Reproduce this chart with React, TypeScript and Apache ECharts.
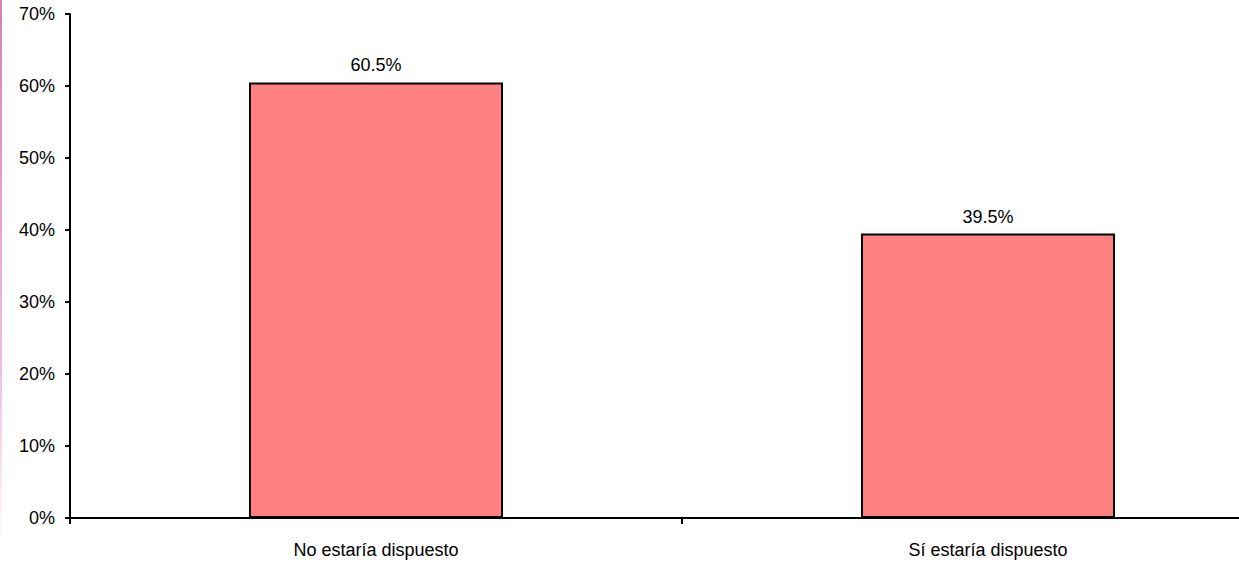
import React, { useEffect, useRef } from "react";
import * as echarts from "echarts";

const categories = ["No estaría dispuesto", "Sí estaría dispuesto"];
const values = [60.5, 39.5];
const yTicks = [0, 10, 20, 30, 40, 50, 60, 70];

export default function App() {
  const ref = useRef<HTMLDivElement>(null);
  useEffect(() => {
    const chart = echarts.init(ref.current!, null, { renderer: "svg" });
    const font = "'Liberation Sans', Arial, sans-serif";
    chart.setOption({
      animation: false,
      grid: { left: 70, right: 1, top: 14, bottom: 49, containLabel: false },
      xAxis: {
        type: "category",
        data: categories,
        axisLine: { lineStyle: { color: "#000", width: 2 } },
        axisTick: { show: true, length: 6, lineStyle: { color: "#000", width: 2 } },
        axisLabel: { color: "#000", fontSize: 18, fontFamily: font, margin: 23 },
      },
      yAxis: {
        type: "value",
        min: yTicks[0],
        max: yTicks[yTicks.length - 1],
        interval: 10,
        splitLine: { show: false },
        axisLine: { show: true, lineStyle: { color: "#000", width: 2 } },
        axisTick: { show: true, length: 5, lineStyle: { color: "#000", width: 2 } },
        axisLabel: {
          color: "#000",
          fontSize: 18,
          fontFamily: font,
          margin: 15,
          formatter: (v: number) => `${v}%`,
        },
      },
      graphic: [
        {
          type: "rect",
          shape: { x: 0, y: 0, width: 2, height: 545 },
          style: {
            fill: new echarts.graphic.LinearGradient(0, 0, 0, 1, [
              { offset: 0, color: "#d77fb3" },
              { offset: 0.7, color: "#efc3dc" },
              { offset: 1, color: "#ffffff" },
            ]),
          },
        },
      ],
      series: [
        {
          type: "bar",
          data: values,
          barWidth: 254,
          itemStyle: { color: "#FF8080", borderColor: "#000", borderWidth: 2 },
          label: {
            show: true,
            position: "top",
            distance: 8,
            color: "#000",
            fontSize: 18,
            fontFamily: font,
            formatter: (p: any) => `${p.value.toFixed(1)}%`,
          },
        },
      ],
    });
    return () => chart.dispose();
  }, []);
  return (
    <div
      style={{ position: "fixed", left: 0, top: 0, width: 1239, height: 567, overflow: "hidden", background: "#fff" }}
    >
      <div ref={ref} style={{ position: "absolute", left: 0, top: 0, width: 1295, height: 567 }} />
    </div>
  );
}
